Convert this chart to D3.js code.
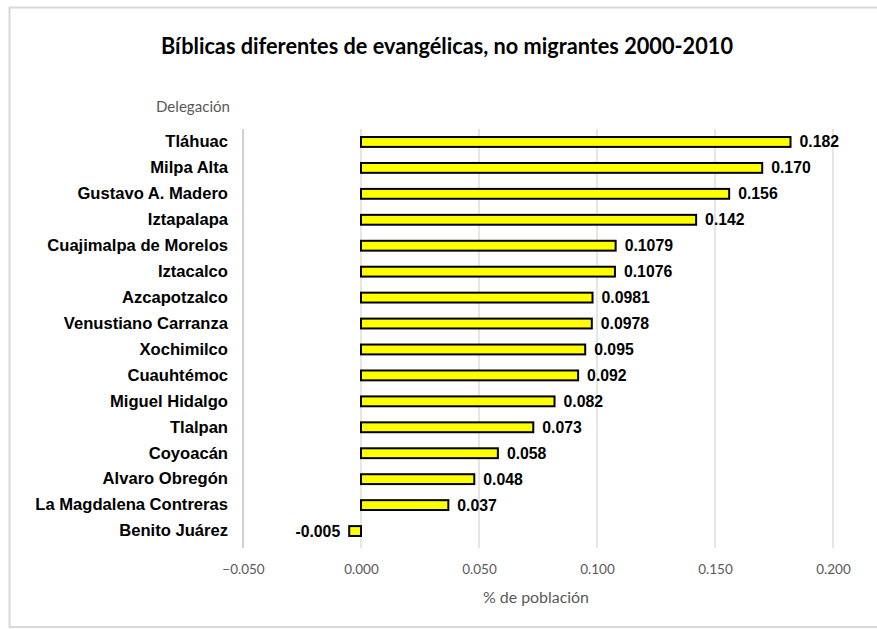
<!DOCTYPE html>
<html>
<head>
<meta charset="utf-8">
<script src="https://cdn.jsdelivr.net/npm/d3@7"></script>
<style>
  html, body { margin: 0; padding: 0; background: #fff; }
  svg { display: block; }
</style>
</head>
<body>
<svg id="chart" width="877" height="629"></svg>
<script>
const categories = ["Tláhuac", "Milpa Alta", "Gustavo A. Madero", "Iztapalapa", "Cuajimalpa de Morelos", "Iztacalco", "Azcapotzalco", "Venustiano Carranza", "Xochimilco", "Cuauhtémoc", "Miguel Hidalgo", "Tlalpan", "Coyoacán", "Alvaro Obregón", "La Magdalena Contreras", "Benito Juárez"];
const values = [0.182, 0.170, 0.156, 0.142, 0.1079, 0.1076, 0.0981, 0.0978, 0.095, 0.092, 0.082, 0.073, 0.058, 0.048, 0.037, -0.005];
const valueLabels = ["0.182", "0.170", "0.156", "0.142", "0.1079", "0.1076", "0.0981", "0.0978", "0.095", "0.092", "0.082", "0.073", "0.058", "0.048", "0.037", "-0.005"];
const xTicks = [-0.05, 0, 0.05, 0.1, 0.15, 0.2];
const title = "Bíblicas diferentes de evangélicas, no migrantes 2000-2010";
const xTitle = "% de población";
const yTitle = "Delegación";

const svg = d3.select("#chart");
const boldFont = "'Liberation Sans', Arial, sans-serif";
const lightFont = "Lato, 'Open Sans', sans-serif";

// frame
svg.append("rect").attr("x", 9.5).attr("y", 7.5).attr("width", 900).attr("height", 619.5)
  .attr("fill", "#fff").attr("stroke", "#d9d9d9").attr("stroke-width", 2);

const plot = { left: 243, right: 833, top: 129, bottom: 544 };

const x = d3.scaleLinear().domain([-0.05, 0.2]).range([plot.left, plot.right]);
const y = d3.scaleBand().domain(categories).range([plot.top, plot.bottom]).paddingInner(0.62).paddingOuter(0.31);

// grid
svg.append("g").selectAll("line").data(xTicks.slice(1)).join("line")
  .attr("x1", d => x(d)).attr("x2", d => x(d))
  .attr("y1", plot.top).attr("y2", plot.bottom + 4)
  .attr("stroke", "#d9d9d9").attr("stroke-width", 1.3);

// category axis line
svg.append("line").attr("x1", plot.left).attr("x2", plot.left)
  .attr("y1", plot.top).attr("y2", plot.bottom + 4)
  .attr("stroke", "#d0d0d0").attr("stroke-width", 2);

// x axis tick labels
const xAxis = d3.axisBottom(x).tickValues(xTicks).tickFormat(d3.format(".3f")).tickSize(0).tickPadding(0);
const gx = svg.append("g").attr("transform", `translate(0,${plot.bottom + 20})`).call(xAxis);
gx.select(".domain").remove();
gx.selectAll("text").attr("font-family", lightFont).attr("font-size", 13.5).attr("fill", "#595959");

// y axis labels
const yAxis = d3.axisLeft(y).tickSize(0).tickPadding(15);
const gy = svg.append("g").attr("transform", `translate(${plot.left},0)`).call(yAxis);
gy.select(".domain").remove();
gy.selectAll("text").attr("font-family", boldFont).attr("font-weight", "bold").attr("font-size", 16.6).attr("fill", "#000");

// bars
const data = categories.map((c, i) => ({ c, v: values[i], label: valueLabels[i] }));
svg.append("g").selectAll("rect").data(data).join("rect")
  .attr("x", d => x(Math.min(0, d.v)))
  .attr("y", d => y(d.c))
  .attr("width", d => Math.abs(x(d.v) - x(0)))
  .attr("height", y.bandwidth())
  .attr("fill", "#ffff00").attr("stroke", "#000").attr("stroke-width", 2);

// value labels
svg.append("g").selectAll("text").data(data).join("text")
  .attr("x", d => d.v >= 0 ? x(d.v) + 9 : x(d.v) - 9)
  .attr("y", d => y(d.c) + y.bandwidth() / 2)
  .attr("dy", "0.35em")
  .attr("text-anchor", d => d.v >= 0 ? "start" : "end")
  .attr("font-family", boldFont).attr("font-weight", "bold").attr("font-size", 15.8)
  .text(d => d.label);

// title
svg.append("text").attr("x", 161).attr("y", 54)
  .attr("font-family", lightFont).attr("font-weight", "bold").attr("font-size", 23).attr("fill", "#000")
  .attr("textLength", 572).attr("lengthAdjust", "spacingAndGlyphs")
  .text(title);

// axis titles
svg.append("text").attr("x", 156).attr("y", 112)
  .attr("font-family", lightFont).attr("font-size", 15).attr("fill", "#595959")
  .attr("textLength", 74).attr("lengthAdjust", "spacingAndGlyphs").text(yTitle);
svg.append("text").attr("x", 483).attr("y", 603)
  .attr("font-family", lightFont).attr("font-size", 15.5).attr("fill", "#595959")
  .attr("textLength", 106).attr("lengthAdjust", "spacingAndGlyphs").text(xTitle);
</script>
</body>
</html>
